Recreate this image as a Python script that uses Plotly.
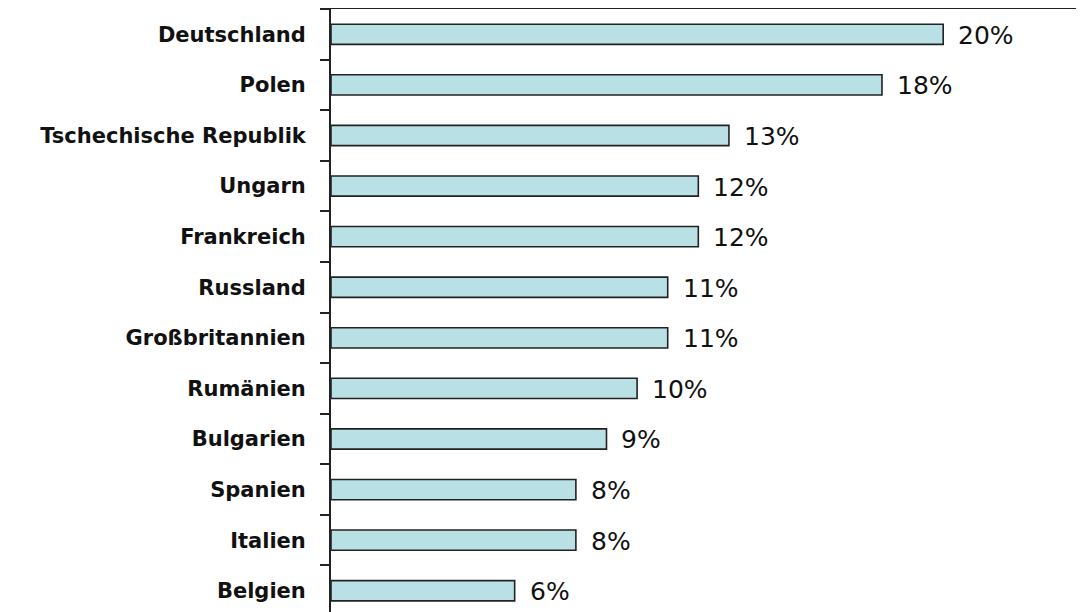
import plotly.graph_objects as go

countries = ["Deutschland", "Polen", "Tschechische Republik", "Ungarn", "Frankreich",
             "Russland", "Großbritannien", "Rumänien", "Bulgarien", "Spanien",
             "Italien", "Belgien"]
values = [20, 18, 13, 12, 12, 11, 11, 10, 9, 8, 8, 6]
value_labels = [f"{v}%" for v in values]

fig = go.Figure(go.Bar(
    x=values, y=countries, orientation="h", width=0.4,
    marker=dict(color="#b9e0e4", line=dict(color="#222222", width=1.6)),
    hoverinfo="skip",
))

for c, v, t in zip(countries, values, value_labels):
    fig.add_annotation(x=v, y=c, text=t, showarrow=False, xanchor="left",
                       xshift=13, yshift=-1,
                       font=dict(family="DejaVu Sans", size=25, color="#111111"))

fig.update_layout(
    width=1076, height=604,
    margin=dict(l=323, r=0, t=1, b=0),
    paper_bgcolor="white", plot_bgcolor="white",
    showlegend=False,
    xaxis=dict(range=[0, 24.6], side="top", showline=True, linecolor="#222222",
               linewidth=2, showgrid=False, zeroline=False, showticklabels=False,
               ticks=""),
    yaxis=dict(type="category", range=[11.42, -0.5], showline=True,
               linecolor="#222222", linewidth=2, showgrid=False, zeroline=False,
               tickson="boundaries", ticks="outside", ticklen=9, tickwidth=2,
               tickcolor="#222222", ticklabelstandoff=19,
               tickfont=dict(family="DejaVu Sans", size=21, color="#111111",
                             weight="bold")),
)

fig.write_html("out.html")
